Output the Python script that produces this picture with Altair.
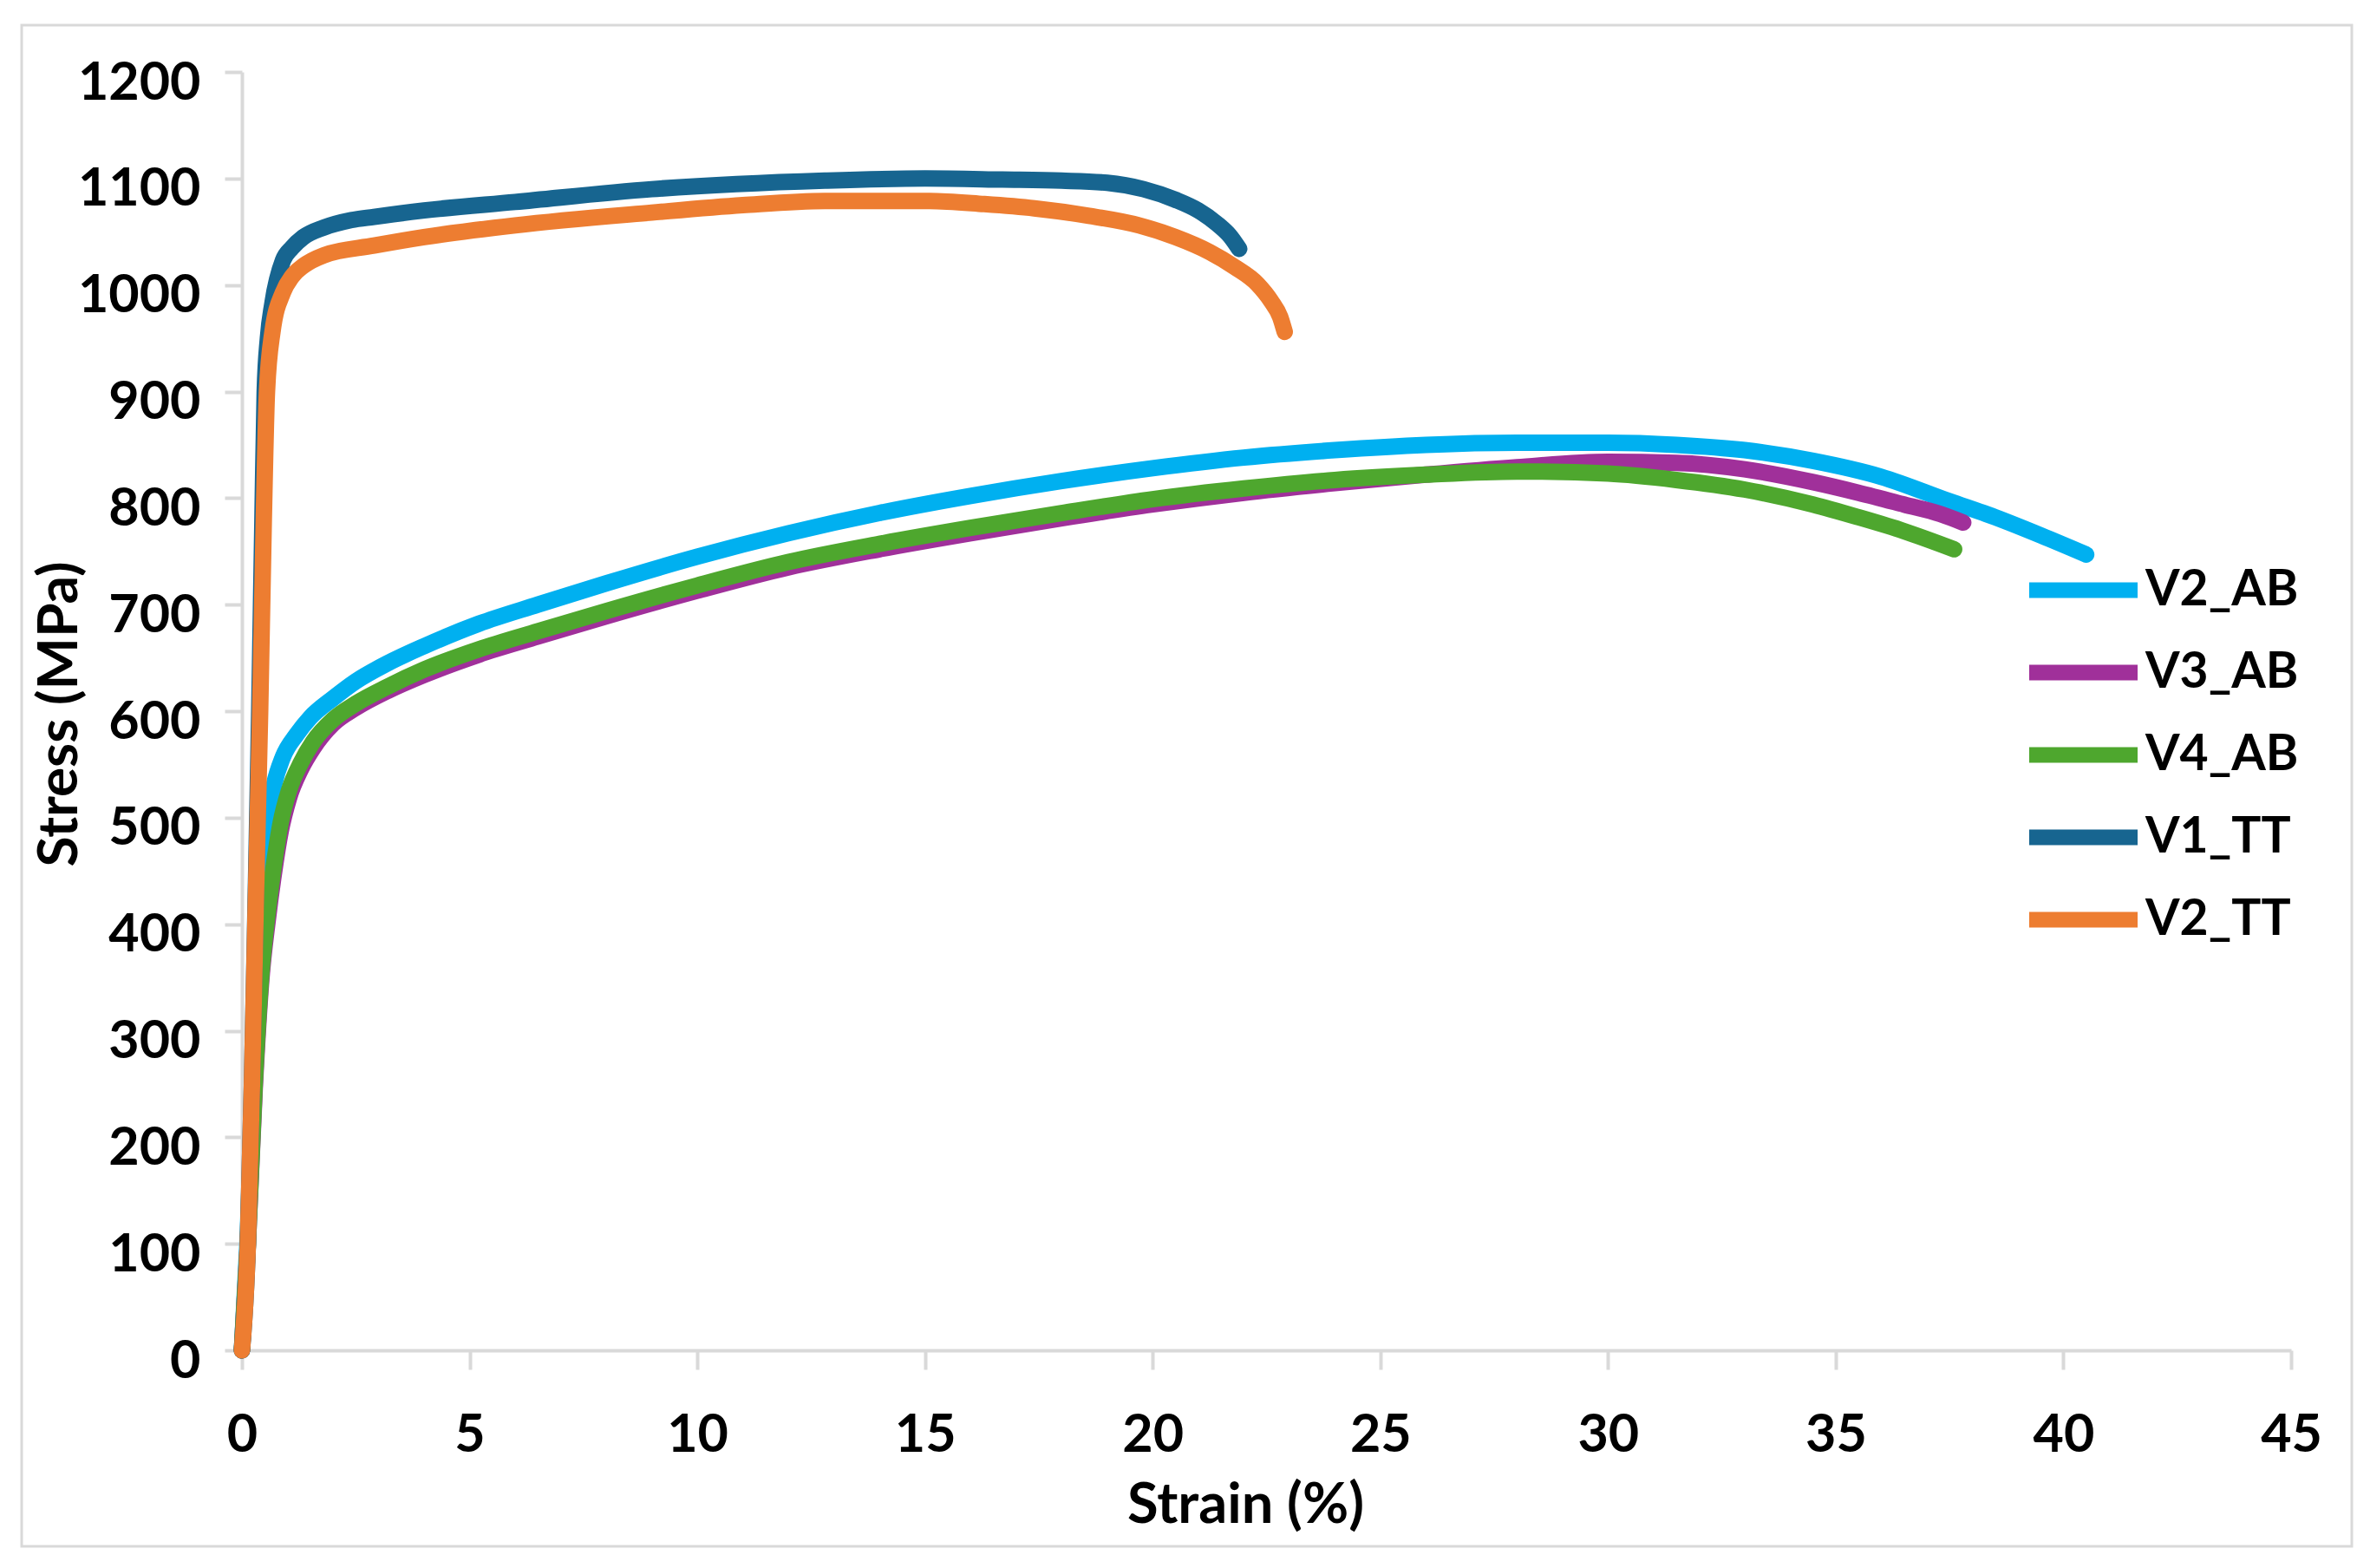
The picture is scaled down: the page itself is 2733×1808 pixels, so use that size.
import altair as alt
import pandas as pd

# ---------------- data ----------------
series_names = ["V2_AB", "V3_AB", "V4_AB", "V1_TT", "V2_TT"]
series_colors = ["#00B0F0", "#A0309A", "#4EA72E", "#176590", "#ED7D31"]

v2ab_strain = [0, 0.12, 0.25, 0.36, 0.45, 0.55, 0.7, 0.9, 1.2, 1.5, 2.0, 2.5, 3.2, 4.0, 5.2, 6.5,
               8.0, 10.0, 12.0, 14.0, 16.0, 18.0, 20.0, 22.0, 24.0, 26.0, 28.0, 30.0, 31.5,
               33.0, 34.5, 36.0, 37.5, 38.5, 39.5, 40.5]
v2ab_stress = [0, 100, 250, 390, 450, 493, 530, 557, 578, 594, 612, 628, 645, 661, 682, 700,
               720, 745, 767, 786, 802, 816, 828, 838, 845, 850, 852, 852, 850,
               845, 835, 820, 797, 782, 765, 747]

v3ab_strain = [0, 0.13, 0.28, 0.42, 0.57, 0.7, 0.85, 1.03, 1.3, 1.56, 2.0, 2.5, 3.2, 4.0, 5.2, 6.5,
               8.0, 10.0, 12.0, 14.0, 16.0, 18.0, 20.0, 22.0, 24.0, 26.0, 28.0, 30.0, 31.5,
               33.0, 34.5, 35.5, 36.5, 37.3, 37.8]
v3ab_stress = [0, 100, 245, 345, 405, 447, 487, 518, 546, 565, 588, 603, 619, 634, 653, 670,
               689, 713, 735, 752, 767, 781, 794, 805, 814, 822, 829, 834, 833,
               827, 815, 805, 794, 785, 777]

v4ab_strain = [0, 0.13, 0.28, 0.42, 0.57, 0.7, 0.85, 1.03, 1.3, 1.56, 2.0, 2.5, 3.2, 4.0, 5.2, 6.5,
               8.0, 10.0, 12.0, 14.0, 16.0, 18.0, 20.0, 22.0, 24.0, 26.0, 28.0, 30.0, 31.5,
               33.0, 34.5, 35.5, 36.5, 37.6]
v4ab_stress = [0, 100, 250, 350, 413, 455, 495, 525, 552, 571, 592, 607, 623, 639, 658, 675,
               694, 718, 740, 757, 772, 786, 799, 809, 817, 822, 825, 823, 817,
               808, 794, 782, 769, 752]

v1tt_strain = [0, 0.13, 0.22, 0.3, 0.38, 0.45, 0.5, 0.57, 0.67, 0.9, 1.1, 1.35, 1.8, 2.4, 2.9,
               4.0, 6.0, 9.0, 12.8, 15.0, 16.7, 18.0, 19.0, 19.8, 20.5, 21.0, 21.4, 21.7, 21.9]
v1tt_stress = [0, 100, 250, 420, 600, 780, 900, 950, 983, 1023, 1035, 1045, 1054, 1061, 1064,
               1070, 1078, 1090, 1098, 1100, 1099, 1098, 1096, 1090, 1080, 1070, 1058, 1046, 1034]

v2tt_strain = [0, 0.13, 0.22, 0.3, 0.4, 0.48, 0.55, 0.67, 0.9, 1.1, 1.35, 1.8, 2.9, 4.0, 6.0,
               9.0, 11.0, 12.8, 15.1, 16.3, 17.4, 18.6, 19.7, 20.5, 21.25, 21.8, 22.3, 22.6,
               22.8, 22.9]
v2tt_stress = [0, 100, 250, 413, 600, 780, 900, 956, 993, 1008, 1018, 1028, 1037, 1045, 1056,
               1068, 1075, 1079, 1079, 1076, 1072, 1065, 1056, 1045, 1031, 1017, 1001, 985,
               970, 956]

x_ticks = [0, 5, 10, 15, 20, 25, 30, 35, 40, 45]
y_ticks = [0, 100, 200, 300, 400, 500, 600, 700, 800, 900, 1000, 1100, 1200]

# ---------------- build table ----------------
all_data = [
    ("V2_AB", v2ab_strain, v2ab_stress),
    ("V3_AB", v3ab_strain, v3ab_stress),
    ("V4_AB", v4ab_strain, v4ab_stress),
    ("V1_TT", v1tt_strain, v1tt_stress),
    ("V2_TT", v2tt_strain, v2tt_stress),
]
rows = []
for name, xs, ys in all_data:
    for xv, yv in zip(xs, ys):
        rows.append({"series": name, "strain": xv, "stress": yv})
df = pd.DataFrame(rows)

FONT = "Lato"
GRAY = "#D9D9D9"

x_enc = alt.X("strain:Q",
              scale=alt.Scale(domain=[0, 45], nice=False, zero=False),
              axis=alt.Axis(values=x_ticks, title="Strain (%)", grid=False, format="d",
                            labelFontSize=61, labelPadding=46, tickSize=22,
                            labelFlush=False,
                            titleX=1157, titleY=198, titleBaseline="alphabetic",
                            titleAlign="center", titleFontSize=65))
y_enc = alt.Y("stress:Q",
              scale=alt.Scale(domain=[0, 1200], nice=False),
              axis=alt.Axis(values=y_ticks, title="Stress (MPa)", grid=False, format="d",
                            labelFontSize=61, labelPadding=28, tickSize=20,
                            labelOffset=13, labelFlush=False,
                            titleX=-191, titleY=740, titleAngle=270,
                            titleBaseline="alphabetic", titleAlign="center",
                            titleFontSize=64))
color_enc = alt.Color("series:N",
                      scale=alt.Scale(domain=series_names, range=series_colors),
                      sort=series_names,
                      legend=alt.Legend(title=None, orient="none",
                                        legendX=2052, legendY=550,
                                        symbolType="stroke", symbolSize=15625,
                                        symbolStrokeWidth=18,
                                        labelFont=FONT, labelFontSize=57,
                                        labelFontWeight="bold", labelColor="#000000",
                                        labelLimit=600,
                                        labelOffset=0, clipHeight=95, rowPadding=0,
                                        padding=0))

frame = alt.Chart(pd.DataFrame({"a": [0]})).mark_rect(
    fill=None, stroke=GRAY, strokeWidth=3
).encode(x=alt.value(-254), x2=alt.value(2433), y=alt.value(-54), y2=alt.value(1700))

layers = [frame]
for name in series_names:
    layers.append(
        alt.Chart(df[df["series"] == name]).mark_line(
            strokeWidth=19, strokeCap="round", strokeJoin="round", interpolate="monotone"
        ).encode(x=x_enc, y=y_enc, color=color_enc, order="strain:Q")
    )

chart = alt.layer(*layers).properties(
    width=2363, height=1474,
    autosize=alt.AutoSizeParams(type="none"),
    padding={"left": 271, "top": 75, "right": 83, "bottom": 243},
    background="#FFFFFF",
).configure_view(stroke=None).configure_axis(
    labelFont=FONT, labelFontWeight="bold", labelColor="#000000",
    titleFont=FONT, titleFontWeight="bold", titleColor="#000000",
    domainColor=GRAY, domainWidth=4, tickColor=GRAY, tickWidth=4,
)

chart.save("out.html", embed_options={"renderer": "svg", "actions": False})
